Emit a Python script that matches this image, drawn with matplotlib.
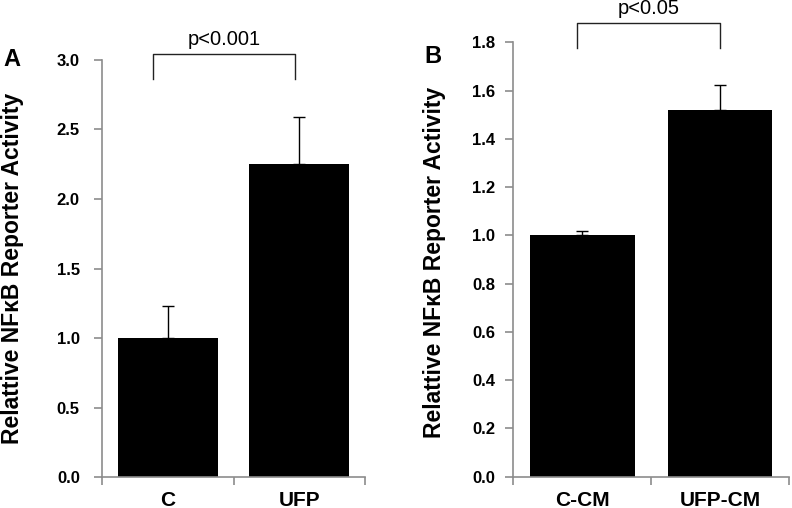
import numpy as np
import matplotlib
matplotlib.use("Agg")
import matplotlib.pyplot as plt

plt.rcParams['font.family'] = ['Liberation Sans', 'DejaVu Sans']

# panel A
cats_a = ['C', 'UFP']
vals_a = [1.0, 2.25]
err_a = [0.23, 0.34]
# panel B
cats_b = ['C-CM', 'UFP-CM']
vals_b = [1.0, 1.52]
err_b = [0.018, 0.105]

ylabel = 'Relattive NF\u03baB Reporter Activity'
spine_col = '#8c8c8c'


def draw_panel(ax, cats, vals, errs, ymax, ystep, ptext, brk_x, brk_y, ypad):
    x = np.arange(len(cats))
    ax.bar(x, vals, width=0.76, color='black', zorder=2)
    ax.errorbar(x, vals, yerr=[np.zeros(len(errs)), errs], fmt='none',
                ecolor='black', elinewidth=1, capsize=4, capthick=1, zorder=1)
    ax.set_xlim(-0.5, len(cats) - 0.5)
    ax.set_ylim(0, ymax)
    ax.set_yticks(np.arange(0, ymax + ystep / 2, ystep))
    ax.yaxis.set_major_formatter(matplotlib.ticker.FormatStrFormatter('%.1f'))
    # category boundaries get tick marks, names sit between them
    ax.set_xticks(np.arange(-0.5, len(cats), 1.0))
    ax.set_xticklabels([])
    ax.set_xticks(x, minor=True)
    ax.set_xticklabels(cats, minor=True, fontsize=15, fontweight='bold')
    ax.tick_params(axis='x', which='minor', length=0, pad=10)
    ax.tick_params(axis='x', which='major', length=6, color=spine_col, width=1.2)
    ax.tick_params(axis='y', length=6, color=spine_col, width=1.2, labelsize=12,
                   pad=ypad)
    for lab in ax.get_yticklabels():
        lab.set_fontweight('bold')
    for s in ['top', 'right']:
        ax.spines[s].set_visible(False)
    for s in ['left', 'bottom']:
        ax.spines[s].set_color(spine_col)
        ax.spines[s].set_linewidth(1.2)
    # significance bracket
    x0, x1 = brk_x
    y0, y1 = brk_y
    ax.plot([x0, x0, x1, x1], [y0, y1, y1, y0], color='#222222', lw=1,
            clip_on=False)
    ax.text((x0 + x1) / 2, y1 + (ymax * 0.012), ptext, ha='center', va='bottom',
            fontsize=14.5)
    return ax


fig = plt.figure(figsize=(7.92, 5.08), dpi=100)
ax_a = fig.add_axes([0.1288, 0.0610, 0.3321, 0.8209])
ax_b = fig.add_axes([0.6481, 0.0616, 0.3481, 0.8551])

draw_panel(ax_a, cats_a, vals_a, err_a, 3.0, 0.5, 'p<0.001',
           (-0.11, 0.97), (2.86, 3.04), 10)
draw_panel(ax_b, cats_b, vals_b, err_b, 1.8, 0.2, 'p<0.05',
           (-0.04, 1.0), (1.775, 1.88), 7)

fig.text(0.016, 0.472, ylabel, rotation=90, ha='center', va='center',
         fontsize=16.5, fontweight='bold')
fig.text(0.548, 0.484, ylabel, rotation=90, ha='center', va='center',
         fontsize=16.5, fontweight='bold')
fig.text(0.015, 0.882, 'A', ha='center', va='center', fontsize=17, fontweight='bold')
fig.text(0.547, 0.888, 'B', ha='center', va='center', fontsize=17, fontweight='bold')

fig.savefig('out.png', dpi=100)
